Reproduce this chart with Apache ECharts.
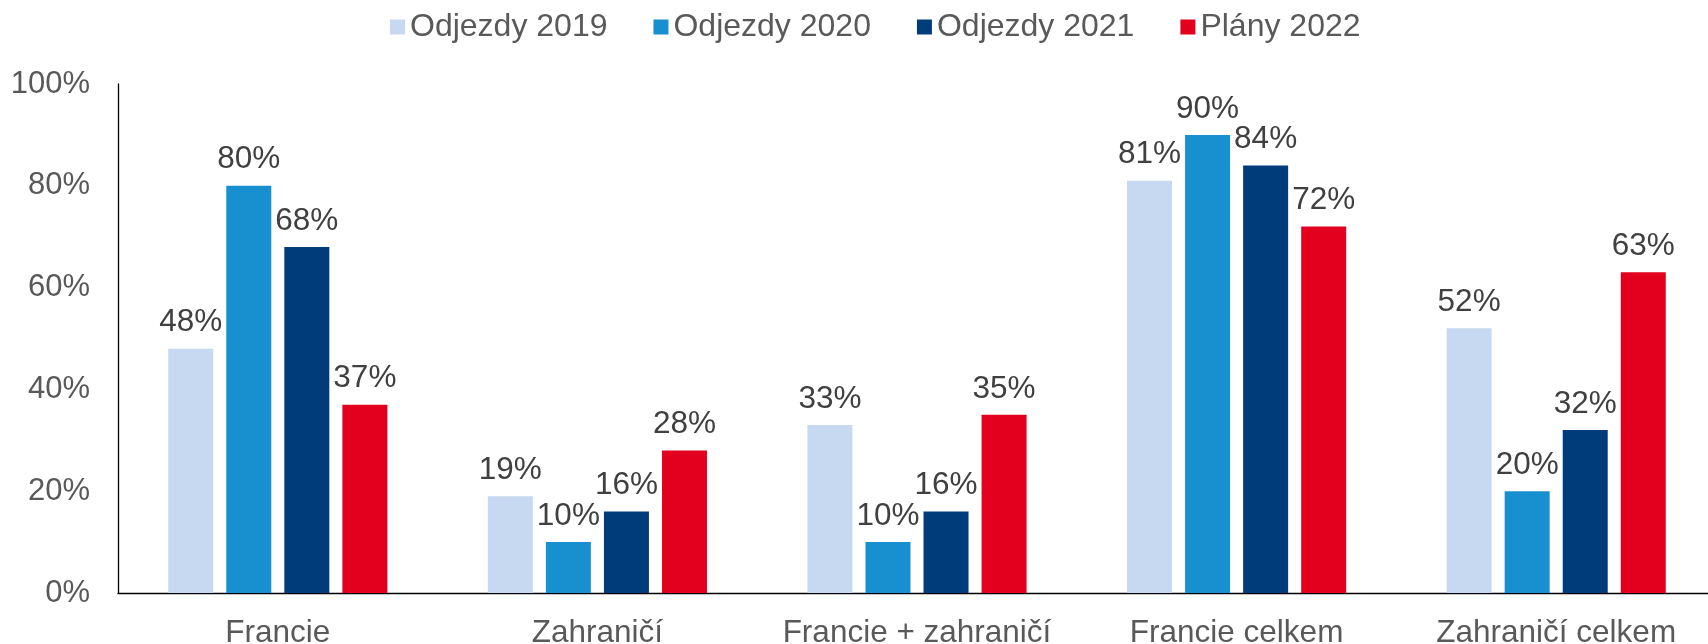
<!DOCTYPE html>
<html>
<head>
<meta charset="utf-8">
<script src="https://cdn.jsdelivr.net/npm/echarts@6/dist/echarts.min.js"></script>
<style>
html,body{margin:0;padding:0;background:#fff;}
#chart{width:1708px;height:644px;}
</style>
</head>
<body>
<div id="chart"></div>
<script>
const categories = ['Francie', 'Zahraničí', 'Francie + zahraničí', 'Francie celkem', 'Zahraničí celkem'];
const seriesNames = ['Odjezdy 2019', 'Odjezdy 2020', 'Odjezdy 2021', 'Plány 2022'];
const odjezdy2019 = [48, 19, 33, 81, 52];
const odjezdy2020 = [80, 10, 10, 90, 20];
const odjezdy2021 = [68, 16, 16, 84, 32];
const plany2022 = [37, 28, 35, 72, 63];
const yTicks = [0, 20, 40, 60, 80, 100];

const colors = ['#C6D9F0', '#188FCF', '#003C7A', '#E3001E'];
const values = [odjezdy2019, odjezdy2020, odjezdy2021, plany2022];
const FONT = '"Liberation Sans", Arial, sans-serif';

const chart = echarts.init(document.getElementById('chart'), null, {renderer: 'canvas'});
chart.setOption({
  animation: false,
  backgroundColor: '#ffffff',
  legend: {
    left: 385,
    top: 6,
    itemWidth: 15,
    itemHeight: 15,
    itemGap: 46,
    icon: 'rect',
    textStyle: {fontFamily: FONT, fontSize: 32, color: '#595959'},
    data: seriesNames
  },
  grid: {left: 118, top: 84, width: 1598, height: 509, containLabel: false, outerBoundsMode: 'none'},
  xAxis: {
    type: 'category',
    data: categories,
    axisLine: {lineStyle: {color: '#000000', width: 1.3}},
    axisTick: {show: false},
    axisLabel: {interval: 0, fontFamily: FONT, fontSize: 31.5, color: '#595959', margin: 24}
  },
  yAxis: {
    type: 'value',
    min: yTicks[0],
    max: yTicks[yTicks.length - 1],
    interval: yTicks[1] - yTicks[0],
    splitLine: {show: false},
    axisLine: {show: true, lineStyle: {color: '#000000', width: 1.3}},
    axisTick: {show: false},
    axisLabel: {fontFamily: FONT, fontSize: 31, color: '#595959', margin: 28, formatter: '{value}%'}
  },
  series: seriesNames.map((name, i) => ({
    name: name,
    type: 'bar',
    data: values[i],
    barWidth: 45,
    barGap: '29%',
    itemStyle: {color: colors[i]},
    label: {
      show: true,
      position: 'top',
      distance: 10,
      formatter: '{c}%',
      fontFamily: FONT,
      fontSize: 31.5,
      color: '#404040'
    }
  }))
});
</script>
</body>
</html>
